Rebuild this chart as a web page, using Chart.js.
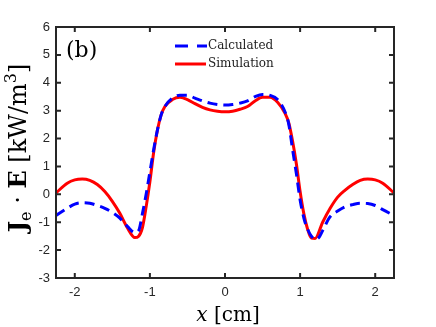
<!DOCTYPE html>
<html>
<head>
<meta charset="utf-8">
<script src="https://cdn.jsdelivr.net/npm/chart.js@4.4.1/dist/chart.umd.min.js"></script>
<style>
  html, body { margin: 0; padding: 0; background: #fff; }
  #wrap { width: 436px; height: 327px; position: relative; }
</style>
</head>
<body>
<div id="wrap"><canvas id="myChart" width="436" height="327"></canvas></div>
<script>
const xCalculated = [-2.25, -2.1, -2.0, -1.9, -1.8, -1.7, -1.6, -1.5, -1.4, -1.3, -1.2, -1.15, -1.1, -1.05, -1.0, -0.95, -0.9, -0.85, -0.8, -0.7, -0.6, -0.5, -0.4, -0.3, -0.2, -0.1, 0, 0.1, 0.2, 0.3, 0.4, 0.5, 0.6, 0.7, 0.8, 0.85, 0.9, 0.95, 1.0, 1.05, 1.1, 1.15, 1.2, 1.25, 1.3, 1.4, 1.5, 1.6, 1.7, 1.8, 1.9, 2.0, 2.1, 2.25];
const yCalculated = [-0.76, -0.5, -0.35, -0.3, -0.32, -0.4, -0.5, -0.65, -0.85, -1.15, -1.37, -1.3, -0.7, 0.0, 0.8, 1.6, 2.3, 2.85, 3.15, 3.45, 3.55, 3.55, 3.45, 3.35, 3.27, 3.22, 3.2, 3.22, 3.27, 3.35, 3.5, 3.58, 3.55, 3.4, 2.95, 2.5, 1.6, 0.75, -0.2, -0.85, -1.25, -1.5, -1.62, -1.55, -1.3, -0.8, -0.6, -0.45, -0.37, -0.32, -0.33, -0.4, -0.55, -0.76];

const xSimulation = [-2.25, -2.1, -2.0, -1.9, -1.8, -1.7, -1.6, -1.5, -1.4, -1.3, -1.2, -1.15, -1.1, -1.05, -1.0, -0.95, -0.9, -0.85, -0.8, -0.7, -0.6, -0.5, -0.4, -0.3, -0.2, -0.1, 0, 0.1, 0.2, 0.3, 0.4, 0.5, 0.6, 0.7, 0.8, 0.85, 0.9, 0.95, 1.0, 1.05, 1.1, 1.15, 1.2, 1.3, 1.4, 1.5, 1.6, 1.7, 1.8, 1.9, 2.0, 2.1, 2.25];
const ySimulation = [0.05, 0.4, 0.52, 0.55, 0.5, 0.35, 0.1, -0.25, -0.68, -1.2, -1.55, -1.5, -1.2, -0.45, 0.45, 1.5, 2.3, 2.85, 3.15, 3.4, 3.48, 3.4, 3.25, 3.12, 3.03, 2.98, 2.96, 2.98, 3.05, 3.15, 3.35, 3.48, 3.48, 3.3, 2.9, 2.55, 1.9, 1.1, 0.1, -0.7, -1.25, -1.57, -1.58, -1.0, -0.5, -0.1, 0.15, 0.35, 0.5, 0.55, 0.52, 0.4, 0.05];

const xTicks = [-2, -1, 0, 1, 2];
const yTicks = [-3, -2, -1, 0, 1, 2, 3, 4, 5, 6];
const seriesLabels = ["Calculated", "Simulation"];

function toPoints(xs, ys) {
  return xs.map((x, i) => ({ x: x, y: ys[i] }));
}

// frame with inward ticks, legend, panel label and axis titles
const decorPlugin = {
  id: "decor",
  afterDraw(chart) {
    const ctx = chart.ctx;
    const a = chart.chartArea;
    const xs = chart.scales.x;
    const ys = chart.scales.y;
    ctx.save();
    ctx.strokeStyle = "#262626";
    ctx.lineWidth = 2;
    ctx.strokeRect(a.left, a.top, a.right - a.left, a.bottom - a.top);
    ctx.beginPath();
    xTicks.forEach((v) => {
      const px = xs.getPixelForValue(v);
      ctx.moveTo(px, a.bottom);
      ctx.lineTo(px, a.bottom - 5);
      ctx.moveTo(px, a.top);
      ctx.lineTo(px, a.top + 5);
    });
    yTicks.forEach((v) => {
      const py = ys.getPixelForValue(v);
      ctx.moveTo(a.left, py);
      ctx.lineTo(a.left + 5, py);
      ctx.moveTo(a.right, py);
      ctx.lineTo(a.right - 5, py);
    });
    ctx.stroke();

    // panel label
    ctx.fillStyle = "#000";
    ctx.font = "22px 'DejaVu Serif'";
    ctx.textBaseline = "alphabetic";
    ctx.textAlign = "left";
    ctx.fillText("(b)", a.left + 10, a.top + 30);

    // legend
    const lx = 175, ly1 = 46, ly2 = 64;
    ctx.lineWidth = 3;
    ctx.strokeStyle = "#0000ff";
    ctx.setLineDash([13, 9]);
    ctx.beginPath();
    ctx.moveTo(lx, ly1);
    ctx.lineTo(lx + 32, ly1);
    ctx.stroke();
    ctx.setLineDash([]);
    ctx.strokeStyle = "#ff0000";
    ctx.beginPath();
    ctx.moveTo(lx, ly2);
    ctx.lineTo(lx + 31, ly2);
    ctx.stroke();
    ctx.font = "12px 'DejaVu Serif'";
    ctx.fillStyle = "#222";
    ctx.textBaseline = "middle";
    ctx.fillText(seriesLabels[0], lx + 33, ly1);
    ctx.fillText(seriesLabels[1], lx + 33, ly2);

    // x axis title
    ctx.fillStyle = "#000";
    ctx.textBaseline = "alphabetic";
    const xPart = "x ";
    const rest = "[cm]";
    ctx.font = "italic 20px 'DejaVu Serif'";
    const w1 = ctx.measureText(xPart).width;
    ctx.font = "20px 'DejaVu Serif'";
    const w2 = ctx.measureText(rest).width;
    const sx = 228 - (w1 + w2) / 2;
    ctx.font = "italic 20px 'DejaVu Serif'";
    ctx.fillText(xPart, sx, 321);
    ctx.font = "20px 'DejaVu Serif'";
    ctx.fillText(rest, sx + w1, 321);

    // y axis title, rotated
    const parts = [
      { t: "J", f: "bold 24px 'DejaVu Serif'", dy: 0 },
      { t: "e", f: "16px 'DejaVu Serif'", dy: 5 },
      { t: " \u00b7 ", f: "24px 'DejaVu Serif'", dy: 0 },
      { t: "E", f: "bold 24px 'DejaVu Serif'", dy: 0 },
      { t: " [kW/m", f: "24px 'DejaVu Serif'", dy: 0 },
      { t: "3", f: "16px 'DejaVu Serif'", dy: -10 },
      { t: "]", f: "24px 'DejaVu Serif'", dy: 0 },
    ];
    let total = 0;
    parts.forEach((p) => {
      ctx.font = p.f;
      p.w = ctx.measureText(p.t).width;
      total += p.w;
    });
    ctx.translate(26, 148);
    ctx.rotate(-Math.PI / 2);
    let cx = -total / 2;
    parts.forEach((p) => {
      ctx.font = p.f;
      ctx.fillText(p.t, cx, p.dy);
      cx += p.w;
    });
    ctx.restore();
  },
};

document.addEventListener("DOMContentLoaded", function () {
  const ctx = document.getElementById("myChart").getContext("2d");
  new Chart(ctx, {
    type: "line",
    data: {
      datasets: [
        {
          label: seriesLabels[0],
          data: toPoints(xCalculated, yCalculated),
          borderColor: "#0000ff",
          borderWidth: 3,
          borderDash: [10, 6],
          pointRadius: 0,
          cubicInterpolationMode: "monotone",
          fill: false,
        },
        {
          label: seriesLabels[1],
          data: toPoints(xSimulation, ySimulation),
          borderColor: "#ff0000",
          borderWidth: 3,
          pointRadius: 0,
          cubicInterpolationMode: "monotone",
          fill: false,
        },
      ],
    },
    options: {
      responsive: false,
      animation: false,
      layout: { padding: { left: 0, top: 27, right: 42, bottom: 0 } },
      plugins: { legend: { display: false }, tooltip: { enabled: false } },
      scales: {
        x: {
          type: "linear",
          min: -2.25,
          max: 2.25,
          grid: { display: false, drawTicks: false, tickLength: 0 },
          border: { display: false },
          afterBuildTicks: (scale) => {
            scale.ticks = xTicks.map((v) => ({ value: v }));
          },
          afterFit: (scale) => { scale.height = 49; },
          ticks: {
            font: { family: "'Liberation Sans'", size: 13 },
            color: "#262626",
            padding: 7,
            maxRotation: 0,
          },
        },
        y: {
          type: "linear",
          min: -3,
          max: 6,
          grid: { display: false, drawTicks: false, tickLength: 0 },
          border: { display: false },
          afterBuildTicks: (scale) => {
            scale.ticks = yTicks.map((v) => ({ value: v }));
          },
          afterFit: (scale) => { scale.width = 56; },
          ticks: {
            font: { family: "'Liberation Sans'", size: 13 },
            color: "#262626",
            padding: 6,
          },
        },
      },
    },
    plugins: [decorPlugin],
  });
});
</script>
</body>
</html>
